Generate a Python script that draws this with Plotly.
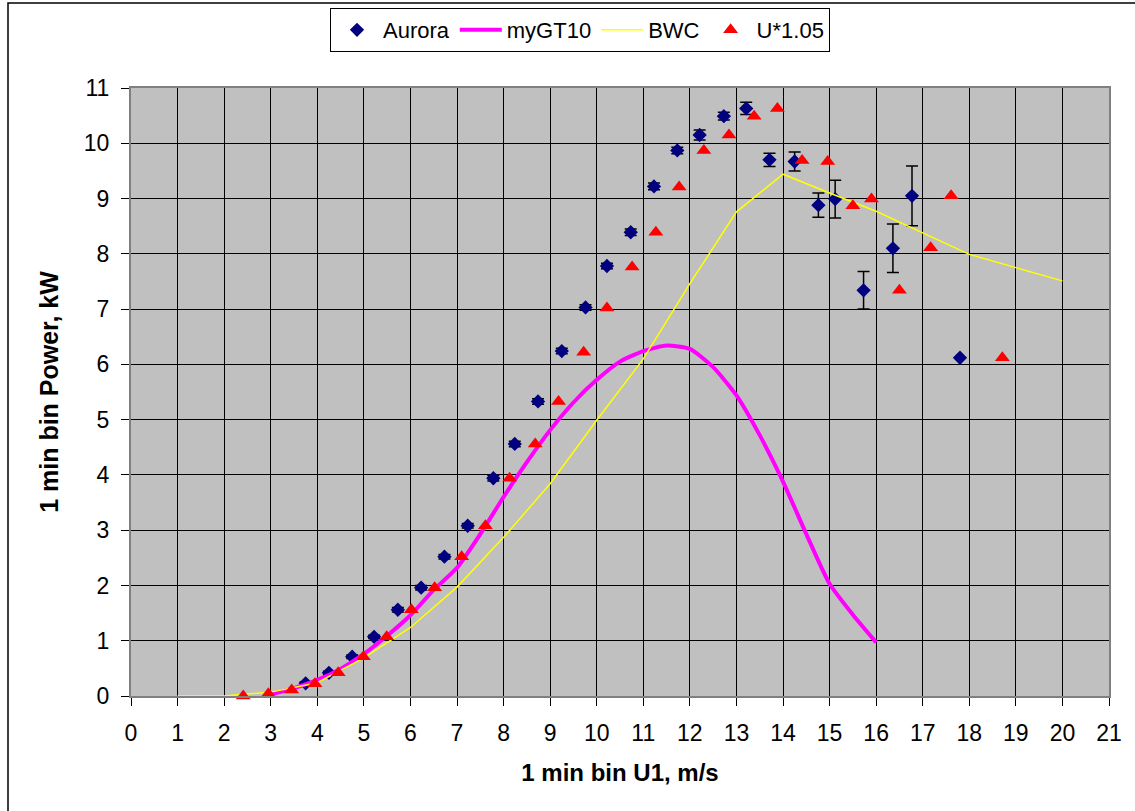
import plotly.graph_objects as go

# Aurora (measured, with error bars)
aurora_x = [3.75, 4.25, 4.75, 5.22, 5.73, 6.23, 6.73, 7.23, 7.78, 8.24, 8.74, 9.25, 9.76, 10.22,
            10.73, 11.23, 11.73, 12.21, 12.73, 13.21, 13.71, 14.25, 14.76, 15.12, 15.73, 16.36,
            16.77, 17.80]
aurora_y = [0.23, 0.42, 0.71, 1.07, 1.56, 1.96, 2.52, 3.08, 3.94, 4.56, 5.33, 6.24, 7.03, 7.78,
            8.39, 9.22, 9.87, 10.15, 10.49, 10.63, 9.70, 9.67, 8.88, 8.99, 7.34, 8.10, 9.05, 6.12]
aurora_err = [0.03, 0.03, 0.03, 0.03, 0.04, 0.04, 0.04, 0.04, 0.05, 0.05, 0.05, 0.05, 0.05, 0.05,
              0.06, 0.06, 0.06, 0.09, 0.07, 0.11, 0.12, 0.17, 0.22, 0.34, 0.34, 0.44, 0.54, 0.0]

# myGT10 curve
gt_x = [3, 3.5, 4, 4.5, 5, 5.5, 6, 6.5, 7, 7.5, 8, 8.5, 9, 9.5, 10, 10.5, 11, 11.5, 12, 12.5,
        13, 13.5, 14, 14.5, 15, 15.5, 16]
gt_y = [0.03, 0.14, 0.29, 0.49, 0.76, 1.09, 1.46, 1.92, 2.32, 2.93, 3.60, 4.23, 4.81, 5.31, 5.72,
        6.05, 6.24, 6.34, 6.28, 5.95, 5.44, 4.72, 3.88, 2.93, 2.03, 1.47, 0.97]

# BWC curve
bwc_x = [1, 2, 3, 4, 5, 6, 7, 8, 9, 10, 11, 12, 13, 14, 15, 16, 17, 18, 19, 20]
bwc_y = [0, 0, 0.07, 0.24, 0.69, 1.24, 1.97, 2.87, 3.84, 4.99, 6.10, 7.46, 8.76, 9.44, 9.10,
         8.77, 8.38, 7.99, 7.75, 7.51]

# U*1.05
u_x = [2.41, 2.95, 3.45, 3.95, 4.45, 4.99, 5.49, 6.02, 6.52, 7.10, 7.61, 8.13, 8.68, 9.18, 9.72,
       10.22, 10.76, 11.27, 11.77, 12.30, 12.84, 13.38, 13.88, 14.41, 14.96, 15.50, 15.90, 16.50,
       17.17, 17.61, 18.71]
u_y = [0.00, 0.04, 0.11, 0.22, 0.42, 0.71, 1.07, 1.56, 1.96, 2.52, 3.08, 3.94, 4.56, 5.33, 6.22,
       7.02, 7.76, 8.39, 9.21, 9.87, 10.15, 10.49, 10.63, 9.69, 9.67, 8.87, 8.99, 7.34, 8.11,
       9.05, 6.12]

x_ticks = list(range(0, 22))
y_ticks = list(range(0, 12))

FONT = "Liberation Sans, Arial, sans-serif"

fig = go.Figure()
fig.add_trace(go.Scatter(
    x=aurora_x, y=aurora_y, mode="markers", name="Aurora",
    marker=dict(symbol="diamond", size=11, color="#000080"),
    error_y=dict(type="data", array=aurora_err, visible=True, color="black",
                 thickness=1.5, width=6),
    cliponaxis=False,
))
fig.add_trace(go.Scatter(
    x=gt_x, y=gt_y, mode="lines", name="myGT10",
    line=dict(color="#FF00FF", width=4, shape="spline", smoothing=0.6),
))
fig.add_trace(go.Scatter(
    x=bwc_x, y=bwc_y, mode="lines", name="BWC",
    line=dict(color="#FFFF00", width=1.5),
))
fig.add_trace(go.Scatter(
    x=u_x, y=u_y, mode="markers", name="U*1.05",
    marker=dict(symbol="triangle-up", size=13, color="#FF0000"),
    cliponaxis=False,
))

W, H = 1135, 811
L, R, T, B = 131, 26, 88, 115
pw = W - L - R
ph = H - T - B

def px_to_paper_x(px):
    return (px - L) / pw

def px_to_paper_y(py):
    return (H - B - py) / ph

fig.update_layout(
    width=W, height=H,
    margin=dict(l=L, r=R, t=T, b=B, autoexpand=False),
    paper_bgcolor="white",
    plot_bgcolor="#C0C0C0",
    font=dict(family=FONT, size=22, color="black"),
    showlegend=True,
    legend=dict(
        orientation="h",
        x=px_to_paper_x(580), xanchor="center",
        y=px_to_paper_y(8), yanchor="top",
        bgcolor="white", bordercolor="black", borderwidth=1,
        font=dict(family=FONT, size=22, color="black"),
        tracegroupgap=0, itemwidth=42,
    ),
    xaxis=dict(
        range=[0, 21], tickvals=x_ticks, ticktext=[str(v) for v in x_ticks],
        showgrid=True, gridcolor="black", gridwidth=1,
        ticks="outside", ticklen=8, tickcolor="black", tickwidth=1,
        showline=True, linecolor="#808080", linewidth=2, mirror=True,
        zeroline=False, tickfont=dict(family=FONT, size=23),
        ticklabelstandoff=7,
        title=dict(text="<b>1 min bin U1, m/s</b>", font=dict(family=FONT, size=24), standoff=20),
    ),
    yaxis=dict(
        range=[0, 11], tickvals=y_ticks, ticktext=[str(v) for v in y_ticks],
        showgrid=True, gridcolor="black", gridwidth=1,
        ticks="outside", ticklen=8, tickcolor="black", tickwidth=1,
        showline=True, linecolor="#808080", linewidth=2, mirror=True,
        zeroline=False, tickfont=dict(family=FONT, size=23),
        ticklabelstandoff=7,
        title=dict(text="<b>1 min bin Power, kW</b>", font=dict(family=FONT, size=25), standoff=18),
    ),
    shapes=[dict(
        type="rect", xref="paper", yref="paper",
        x0=px_to_paper_x(8), x1=px_to_paper_x(1145),
        y0=px_to_paper_y(820), y1=px_to_paper_y(3),
        line=dict(color="black", width=1.5), fillcolor="rgba(0,0,0,0)", layer="below",
    )],
)

fig.write_html("out.html", config={"displayModeBar": False},
               post_script="document.body.style.margin='0';")
